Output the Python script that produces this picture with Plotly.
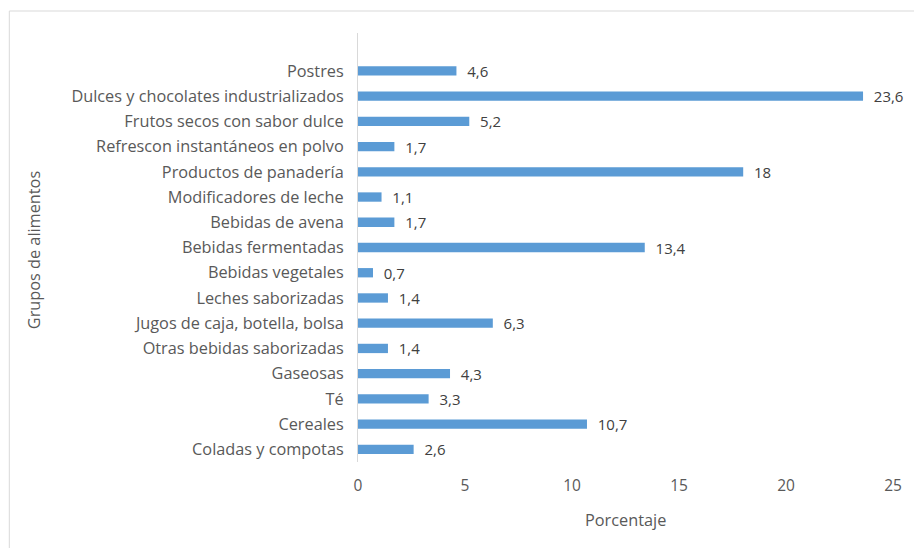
import plotly.graph_objects as go

categories = [
    "Coladas y compotas",
    "Cereales",
    "Té",
    "Gaseosas",
    "Otras bebidas saborizadas",
    "Jugos de caja, botella, bolsa",
    "Leches saborizadas",
    "Bebidas vegetales",
    "Bebidas fermentadas",
    "Bebidas de avena",
    "Modificadores de leche",
    "Productos de panadería",
    "Refrescon instantáneos en polvo",
    "Frutos secos con sabor dulce",
    "Dulces y chocolates industrializados",
    "Postres",
]
values = [2.6, 10.7, 3.3, 4.3, 1.4, 6.3, 1.4, 0.7, 13.4, 1.7, 1.1, 18, 1.7, 5.2, 23.6, 4.6]
x_ticks = [0, 5, 10, 15, 20, 25]

labels = [("%g" % v).replace(".", ",") for v in values]

FONT = "Open Sans"
GRAY = "#595959"
FS = 16.3

W, H = 914, 548
L, R, T, B = 358, 895, 33, 462

fig = go.Figure(
    go.Bar(
        x=values,
        y=categories,
        orientation="h",
        marker=dict(color="#5B9BD5", line=dict(width=0)),
        text=labels,
        texttemplate="\u00a0\u00a0%{text}",
        textposition="outside",
        constraintext="none",
        textfont=dict(family=FONT, size=15, color="#404040"),
        cliponaxis=False,
        width=0.37,
    )
)

fig.update_layout(
    width=W,
    height=H,
    margin=dict(l=L, r=W - R, t=T, b=H - B),
    paper_bgcolor="white",
    plot_bgcolor="white",
    showlegend=False,
    font=dict(family=FONT, size=FS, color=GRAY),
    xaxis=dict(
        range=[0, 25],
        tickvals=x_ticks,
        showgrid=False,
        zeroline=False,
        showline=False,
        ticks="",
        tickfont=dict(family=FONT, size=15.5, color=GRAY),
        ticklabelstandoff=12,
    ),
    yaxis=dict(
        type="category",
        categoryorder="array",
        categoryarray=categories,
        range=[-0.5, 16.5],
        showgrid=False,
        zeroline=False,
        showline=True,
        linecolor="#D9D9D9",
        linewidth=1,
        ticks="",
        tickfont=dict(family=FONT, size=FS, color=GRAY),
        ticklabelstandoff=10,
    ),
    annotations=[
        dict(
            text="Porcentaje",
            xref="paper", yref="paper",
            x=0.5, y=(B - 520) / (B - T),
            showarrow=False,
            font=dict(family=FONT, size=FS, color=GRAY),
            xanchor="center", yanchor="middle",
        ),
        dict(
            text="Grupos de alimentos",
            xref="paper", yref="paper",
            x=(33 - L) / (R - L), y=(B - 250) / (B - T),
            showarrow=False,
            textangle=-90,
            font=dict(family=FONT, size=FS, color=GRAY),
            xanchor="center", yanchor="middle",
        ),
    ],
    shapes=[
        dict(type="line", xref="paper", yref="paper",
             x0=(8 - L) / (R - L), x1=(8 - L) / (R - L),
             y0=(B - 11) / (B - T), y1=(B - 560) / (B - T),
             line=dict(color="#D9D9D9", width=1)),
        dict(type="line", xref="paper", yref="paper",
             x0=(8 - L) / (R - L), x1=(930 - L) / (R - L),
             y0=(B - 11) / (B - T), y1=(B - 11) / (B - T),
             line=dict(color="#D9D9D9", width=1)),
    ],
)

fig.write_html("out.html")
